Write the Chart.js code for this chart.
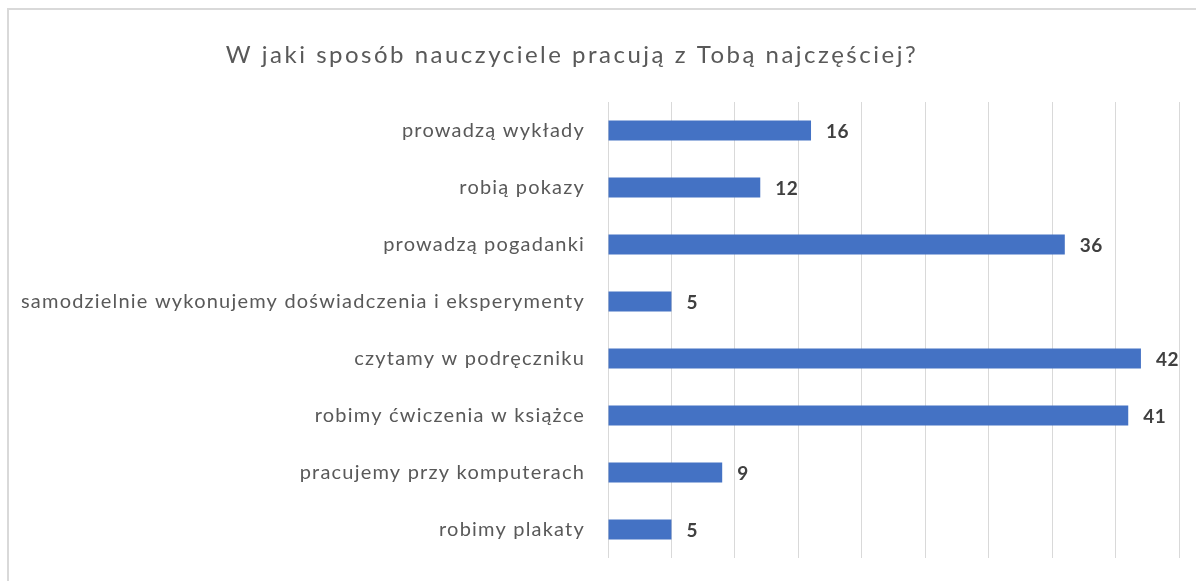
<!DOCTYPE html>
<html>
<head>
<meta charset="utf-8">
<script src="https://cdn.jsdelivr.net/npm/chart.js@4"></script>
<style>
  html, body { margin: 0; padding: 0; background: #fff; overflow: hidden; }
  #wrap { position: relative; width: 1196px; height: 581px; }
  #frame { position: absolute; left: 7px; top: 8px; width: 1400px; height: 800px;
           border: 2px solid #d9d9d9; box-sizing: border-box; }
  canvas { position: absolute; left: 0; top: 0; }
</style>
</head>
<body>
<div id="wrap">
  <div id="frame"></div>
  <canvas id="chart" width="1196" height="581"></canvas>
</div>
<script>
// dane z ankiety
var chartTitle = "W jaki sposób nauczyciele pracują z Tobą najczęściej?";
var categories = [
	"prowadzą wykłady",
	"robią pokazy",
	"prowadzą pogadanki",
	"samodzielnie wykonujemy doświadczenia i eksperymenty",
	"czytamy w podręczniku",
	"robimy ćwiczenia w książce",
	"pracujemy przy komputerach",
	"robimy plakaty"
];
var answers = [16, 12, 36, 5, 42, 41, 9, 5];
var axisMax = 45;
var axisStep = 5;

// szerszy odstep liter jak w oryginale (Calibri)
var spacingPlugin = {
	id: 'spacing',
	beforeDraw: function(chart) {
		chart.ctx.letterSpacing = "1.2px";
	}
};

// tytul rysowany recznie, bo w oryginale nie jest wysrodkowany nad calym obszarem
var titlePlugin = {
	id: 'customTitle',
	afterDraw: function(chart) {
		var c = chart.ctx;
		c.save();
		c.letterSpacing = "2.5px";
		c.font = "24px Lato";
		c.fillStyle = "#595959";
		c.textAlign = "center";
		c.textBaseline = "middle";
		c.fillText(chartTitle, 572, 55);
		c.restore();
	}
};

// etykiety z wartosciami przy koncach slupkow
var valueLabels = {
	id: 'valueLabels',
	afterDatasetsDraw: function(chart) {
		var c = chart.ctx;
		var meta = chart.getDatasetMeta(0);
		c.save();
		c.letterSpacing = "0.5px";
		c.font = "bold 19px Lato";
		c.fillStyle = "#404040";
		c.textAlign = "left";
		c.textBaseline = "middle";
		meta.data.forEach(function(bar, i) {
			c.fillText(String(answers[i]), bar.x + 15, bar.y + 1);
		});
		c.restore();
	}
};

var ctx = document.getElementById("chart");
new Chart(ctx, {
	type: 'bar',
	data: {
		labels: categories,
		datasets: [{
			label: "Liczba odpowiedzi",
			backgroundColor: "#4472c4",
			borderWidth: 0,
			data: answers,
			categoryPercentage: 1,
			barPercentage: 0.35,
		}],
	},
	plugins: [spacingPlugin, titlePlugin, valueLabels],
	options: {
		indexAxis: 'y',
		responsive: false,
		animation: false,
		maintainAspectRatio: false,
		plugins: {
			legend: { display: false },
			title: { display: false },
			tooltip: { enabled: false }
		},
		layout: {
			padding: {
				left: 0,
				right: 17,
				top: 102,
				bottom: 23
			}
		},
		scales: {
			x: {
				min: 0,
				max: axisMax,
				ticks: {
					display: false,
					stepSize: axisStep
				},
				grid: {
					color: "#d9d9d9",
					lineWidth: 1,
					drawTicks: false
				},
				border: { display: false },
				afterFit: function(scale) {
					scale.height = 0;
				}
			},
			y: {
				grid: { display: false, drawTicks: false },
				border: { display: false },
				ticks: {
					color: "#595959",
					padding: 23,
					font: { family: "Lato", size: 20 }
				},
				afterFit: function(scale) {
					scale.width = 608;
					// bez dodatkowego marginesu od etykiet
					scale.paddingTop = 0;
					scale.paddingBottom = 0;
				}
			},
		},
	}
});
</script>
</body>
</html>
